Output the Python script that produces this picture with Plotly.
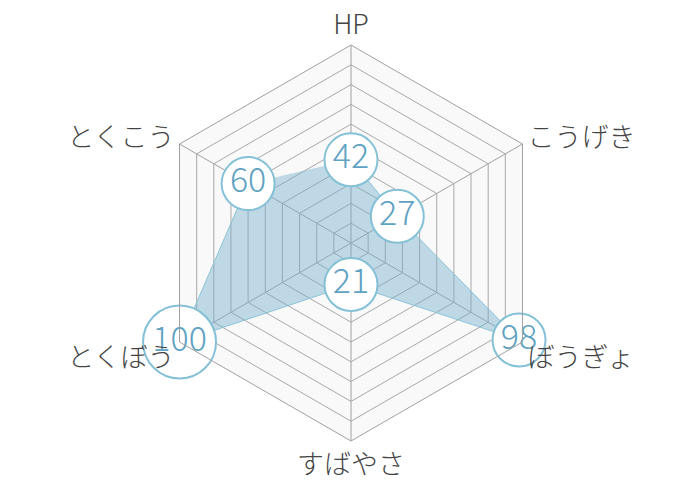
import plotly.graph_objects as go

# stats
categories = ["HP", "こうげき", "ぼうぎょ", "すばやさ", "とくぼう", "とくこう"]
values = [42, 27, 98, 21, 100, 60]

labels = [str(v) for v in values]
# bigger bubble for 3-digit numbers
sizes = [73 if len(t) > 2 else 53 for t in labels]

fig = go.Figure()

fig.add_trace(go.Scatterpolar(
    r=values,
    theta=categories,
    mode="lines+markers+text",
    fill="toself",
    fillcolor="rgba(120,176,204,0.45)",
    line=dict(color="#8cc3d8", width=1),
    marker=dict(size=sizes, color="white", line=dict(color="#84c0d6", width=2), opacity=1),
    text=labels,
    textposition="middle center",
    textfont=dict(size=34, color="#5fa2c2", family="Noto Sans CJK JP", weight=300),
    hoverinfo="skip",
    cliponaxis=False,
))

# polar centre / radius in px (y measured from the bottom)
cx, cy, rad = 343, 245, 198

fig.update_layout(
    width=700,
    height=480,
    margin=dict(l=0, r=0, t=0, b=0),
    paper_bgcolor="white",
    showlegend=False,
    font=dict(family="Noto Sans CJK JP", color="#444"),
    polar=dict(
        domain=dict(x=[(cx - rad) / 700, (cx + rad) / 700],
                    y=[(cy - rad) / 480, (cy + rad) / 480]),
        gridshape="linear",
        bgcolor="#f9f9f9",
        radialaxis=dict(
            range=[0, 100],
            dtick=10,
            showticklabels=False,
            ticks="",
            showline=False,
            gridcolor="#a8a8a8",
            gridwidth=1,
        ),
        angularaxis=dict(
            direction="clockwise",
            rotation=90,
            tickfont=dict(size=27, color="#444", weight=300),
            ticks="",
            linecolor="#a0a0a0",
            gridcolor="#a0a0a0",
        ),
    ),
)

fig.write_html("out.html")
